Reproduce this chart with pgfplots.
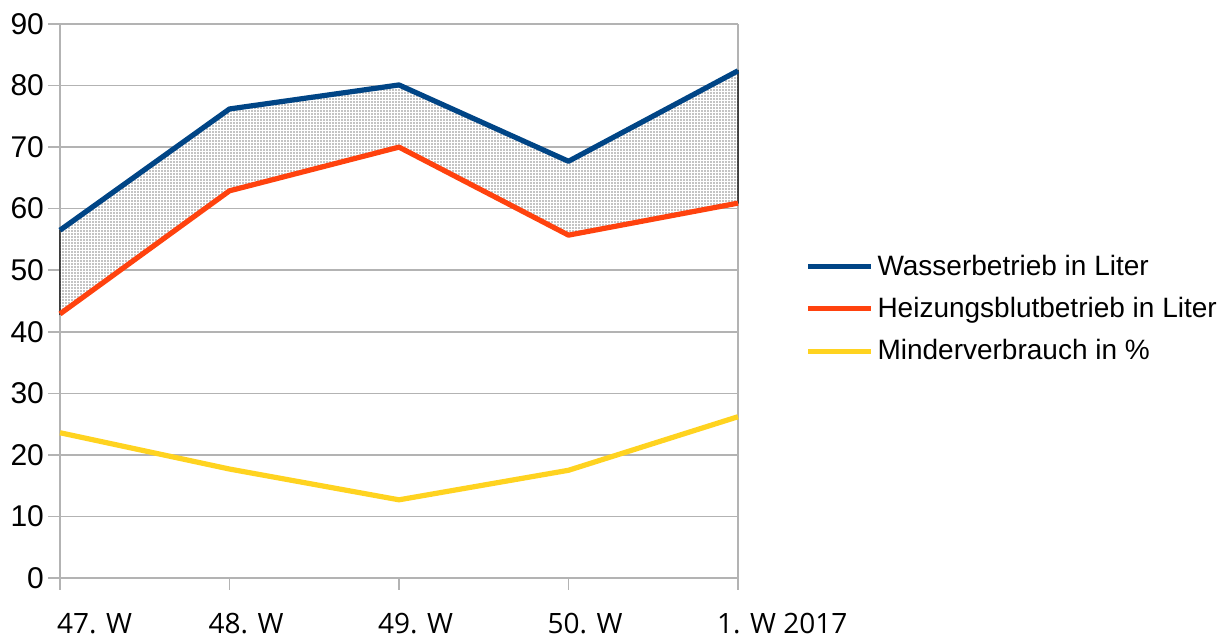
\documentclass[border=0pt]{standalone}
\usepackage{fontspec}
\setmainfont{Liberation Sans}
\newfontfamily\xfont{Open Sans}
\usepackage{pgfplots}
\pgfplotsset{compat=1.18}
\usepgfplotslibrary{fillbetween}
\usetikzlibrary{patterns.meta}
\definecolor{cblue}{HTML}{004586}
\definecolor{corange}{HTML}{FF420E}
\definecolor{cyellow}{HTML}{FFD320}
\definecolor{cgrid}{HTML}{B3B3B3}
\begin{document}
\begin{tikzpicture}
\begin{axis}[
  at={(0,0)}, anchor=south west,
  scale only axis, width=339pt, height=277pt,
  xmin=0, xmax=4, ymin=0, ymax=90,
  xtick={0,1,2,3,4},
  xticklabels={\hspace*{9pt}47. W,48. W,49. W,50. W,1. W 2017},
  ytick={0,10,...,90},
  axis x line*=bottom, axis y line*=left,
  axis line style={cgrid, line width=0.75pt, -},
  tick style={cgrid, line width=0.75pt},
  tick align=outside, major tick length=6pt,
  ymajorgrids, grid style={cgrid, line width=0.75pt},
  extra x ticks={4}, extra x tick labels={}, extra x tick style={xmajorgrids=true},
  /pgf/number format/assume math mode=true,
  yticklabel style={font=\fontsize{15pt}{17pt}\selectfont, anchor=east, xshift=1.5pt},
  xticklabel style={font=\xfont\fontsize{14pt}{16pt}\selectfont, anchor=north west, xshift=-14pt, yshift=-8pt},
  legend style={at={(1.099,0.486)}, anchor=west, draw=none, fill=none, inner sep=0pt,
    font=\fontsize{14pt}{16pt}\selectfont, row sep=5.5pt, cells={anchor=west}},
  legend image code/.code={\draw[#1, line width=2.5pt] (0pt,0pt) -- (31.5pt,0pt);},
  clip=false,
]
\addplot[name path=A, draw=none, forget plot] coordinates {(0,56.5) (1,76.2) (2,80.1) (3,67.7) (4,82.4)};
\addplot[name path=B, draw=none, forget plot] coordinates {(0,42.9) (1,62.9) (2,70.0) (3,55.7) (4,60.9)};
\addplot[fill=white, draw=black, line width=0.6pt, postaction={pattern={Dots[distance=1.5pt, radius=0.32pt]}, pattern color=black}, forget plot] fill between[of=A and B];
\addplot[cblue, line width=2.6pt, line join=round] coordinates {(0,56.5) (1,76.2) (2,80.1) (3,67.7) (4,82.4)};
\addlegendentry{Wasserbetrieb in Liter}
\addplot[corange, line width=2.6pt, line join=round] coordinates {(0,42.9) (1,62.9) (2,70.0) (3,55.7) (4,60.9)};
\addlegendentry{Heizungsblutbetrieb in Liter}
\addplot[cyellow, line width=2.6pt, line join=round] coordinates {(0,23.6) (1,17.7) (2,12.7) (3,17.5) (4,26.2)};
\addlegendentry{Minderverbrauch in \%}
\end{axis}
\pgfresetboundingbox
\useasboundingbox (-30pt,-32pt) rectangle (585.5pt,289pt);
\end{tikzpicture}
\end{document}
